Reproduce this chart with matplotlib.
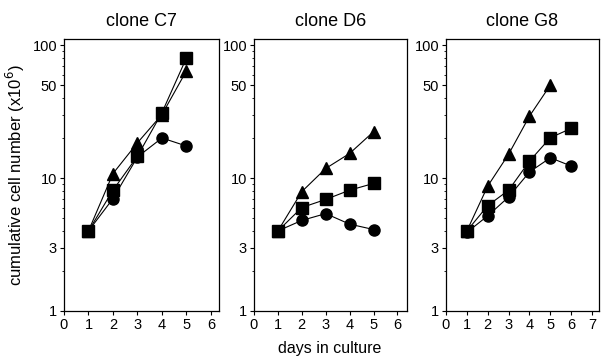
import matplotlib
matplotlib.use("Agg")
import matplotlib.pyplot as plt
from matplotlib.ticker import FixedLocator, FixedFormatter, LogLocator, NullFormatter

plt.rcParams['font.family'] = ['Liberation Sans', 'DejaVu Sans']

titles = ["clone C7", "clone D6", "clone G8"]

c7_days = [1, 2, 3, 4, 5]
c7_triangle = [4.0, 10.8, 18.4, 30, 64]
c7_square = [4.0, 8.1, 14.6, 31, 80]
c7_circle = [4.0, 7.0, 14.4, 20, 17.4]

d6_days = [1, 2, 3, 4, 5]
d6_triangle = [4.0, 7.9, 11.8, 15.3, 22.3]
d6_square = [4.0, 6.0, 6.9, 8.1, 9.1]
d6_circle = [4.0, 4.8, 5.4, 4.5, 4.1]

g8_days_tri = [1, 2, 3, 4, 5]
g8_triangle = [4.0, 8.7, 15.1, 29.2, 50]
g8_days = [1, 2, 3, 4, 5, 6]
g8_square = [4.0, 6.2, 8.1, 13.4, 20.1, 23.6]
g8_circle = [3.9, 5.2, 7.2, 11.1, 14.2, 12.3]

yticks = [1, 3, 10, 50, 100]
ytick_labels = ["1", "3", "10", "50", "100"]

panels = [
    (c7_days, c7_triangle, c7_days, c7_square, c7_days, c7_circle, 6.33, list(range(0, 7))),
    (d6_days, d6_triangle, d6_days, d6_square, d6_days, d6_circle, 6.4, list(range(0, 7))),
    (g8_days_tri, g8_triangle, g8_days, g8_square, g8_days, g8_circle, 7.33, list(range(0, 8))),
]

fig = plt.figure(figsize=(6.01, 3.58), dpi=100)
W, H = 601, 358
lefts = [64, 254, 446]
rights = [219, 407, 599]
top, bottom = 39, 311

for i, (dt, tri, ds, sq, dc, ci, xmax, xt) in enumerate(panels):
    ax = fig.add_axes([lefts[i] / W, 1 - bottom / H, (rights[i] - lefts[i]) / W, (bottom - top) / H])
    ax.set_yscale('log')
    ax.plot(dc, ci, '-', color='black', lw=0.8, marker='o', ms=8, mfc='black', mec='black', zorder=3)
    ax.plot(ds, sq, '-', color='black', lw=0.8, marker='s', ms=8, mfc='black', mec='black', zorder=3)
    ax.plot(dt, tri, '-', color='black', lw=0.8, marker='^', ms=8.5, mfc='black', mec='black', zorder=3)
    ax.set_xlim(0, xmax)
    ax.set_ylim(1, 111)
    ax.set_xticks(xt)
    ax.set_xticklabels([str(v) for v in xt])
    ax.yaxis.set_major_locator(FixedLocator(yticks))
    ax.yaxis.set_major_formatter(FixedFormatter(ytick_labels))
    ax.yaxis.set_minor_locator(LogLocator(base=10, subs=range(2, 10)))
    ax.yaxis.set_minor_formatter(NullFormatter())
    ax.tick_params(axis='both', which='major', direction='out', length=3, width=0.8, labelsize=10.5, pad=2)
    ax.tick_params(axis='y', which='minor', direction='out', length=1.8, width=0.6)
    for s in ax.spines.values():
        s.set_linewidth(0.9)
    ax.set_title(titles[i], fontsize=13, pad=9)
    if i == 0:
        ax.set_ylabel("cumulative cell number (x10$^6$)", fontsize=12, labelpad=4)

fig.text(330 / W, 1 - 348 / H, "days in culture", ha='center', va='center', fontsize=11.5)

fig.savefig("out.png", dpi=100)
